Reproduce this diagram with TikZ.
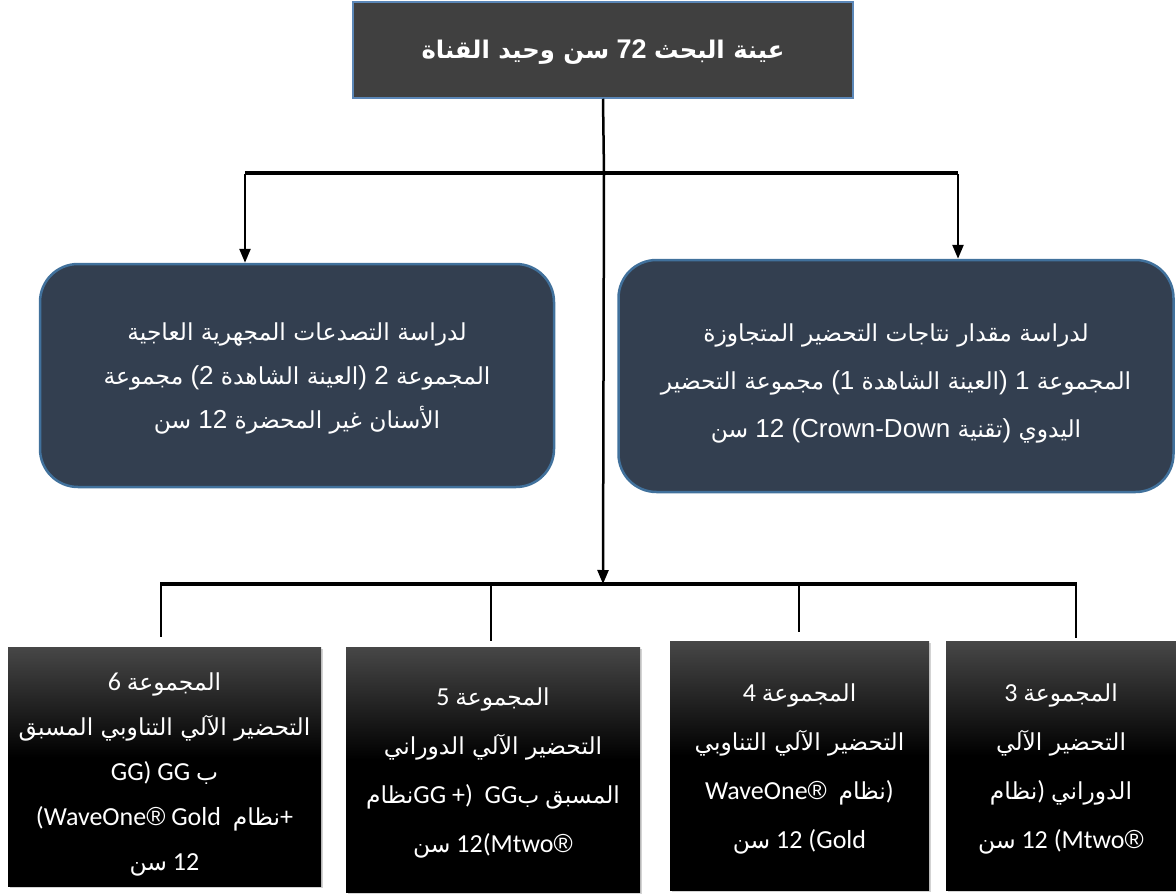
\documentclass[tikz,border=0pt]{standalone}
\usepackage{fontspec}
\setmainfont{Liberation Sans}
\newfontfamily\arf[Script=Arabic,Scale=0.9]{DejaVu Sans}
\newfontfamily\latf{Carlito}
\newfontfamily\regf{Liberation Sans}
\newcommand\A[1]{{\arf #1}}
\newcommand\reg{{\regf ®}}
\usetikzlibrary{arrows.meta,shadows}
\definecolor{topfill}{HTML}{404040}
\definecolor{topdraw}{HTML}{5B87B8}
\definecolor{midfill}{HTML}{333F50}
\definecolor{middraw}{HTML}{41719C}
\definecolor{gtop}{HTML}{474747}
\pgfdeclareverticalshading{grpshade}{100bp}{color(0bp)=(black); color(52bp)=(black); color(75bp)=(gtop); color(100bp)=(gtop)}
\begin{document}
\begin{tikzpicture}[x=1pt,y=-1pt,
  topbox/.style={draw=topdraw,line width=1.5pt,fill=topfill,minimum width=500pt,minimum height=96pt,inner sep=0pt},
  toptext/.style={text=white,inner sep=0pt,font=\bfseries\fontsize{27}{32}\selectfont},
  midbox/.style={draw=middraw,line width=2.5pt,fill=midfill,rounded corners=38pt,inner sep=0pt},
  midtext/.style={text=white,align=center,inner sep=0pt,font=\fontsize{26}{44}\selectfont},
  grpbox/.style={shading=grpshade,inner sep=0pt,drop shadow={opacity=0.35,shadow xshift=2pt,shadow yshift=-2pt}},
  grptext/.style={text=white,align=center,inner sep=0pt,font=\latf\fontsize{26}{49}\selectfont},
  link/.style={line width=2.5pt},
  bus/.style={line width=3.5pt},
  arrowed/.style={-{Triangle[width=11pt,length=14pt]}}
]
\useasboundingbox (0,0) rectangle (1176,894);

% top
\node[topbox] (top) at (603,50) {};
\node[toptext] (ttop) at (603,52) {\A{القناة وحيد سن} 72 \A{البحث عينة}};

% middle boxes
\node[midbox,minimum width=514pt,minimum height=223pt] (g2) at (297,375.5) {};
\node[midtext] (t2) at (297,378)
  {\A{العاجية المجهرية التصدعات لدراسة}\\
   \A{مجموعة} (2 \A{الشاهدة العينة}) 2 \A{المجموعة}\\
   \A{سن} 12 \A{المحضرة غير الأسنان}};
\node[midbox,minimum width=555pt,minimum height=232pt] (g1) at (896,376) {};
\node[midtext,font=\fontsize{26}{48}\selectfont] (t1) at (896,383)
  {\A{المتجاوزة التحضير نتاجات مقدار لدراسة}\\
   \A{التحضير مجموعة} (1 \A{الشاهدة العينة}) 1 \A{المجموعة}\\
   \A{سن} 12 (Crown-Down \A{تقنية}) \A{اليدوي}};

% bottom boxes
\node[grpbox,minimum width=313pt,minimum height=239pt] (g6) at (164.5,766.5) {};
\node[grptext,font=\latf\fontsize{26}{45}\selectfont] (t6) at (164.5,774)
  {6 \A{المجموعة}\\
   \A{المسبق التناوبي الآلي التحضير}\\
   GG) GG \A{ب}\\
   (WaveOne\reg{} Gold\ \ \A{نظام}+\\
   \A{سن} 12};
\node[grpbox,minimum width=294pt,minimum height=245pt] (g5) at (493,769.5) {};
\node[grptext] (t5) at (493,773.3)
  {5 \A{المجموعة}\\
   \A{الدوراني الآلي التحضير}\\
   \A{نظام}GG +)\ \ GG\A{ب} \A{المسبق}\\
   \A{سن} 12(Mtwo\reg};
\node[grpbox,minimum width=259pt,minimum height=249pt] (g4) at (799.5,765.5) {};
\node[grptext] (t4) at (799.5,769.3)
  {4 \A{المجموعة}\\
   \A{التناوبي الآلي التحضير}\\
   WaveOne\reg\ \ \A{نظام})\\
   \A{سن} 12 (Gold};
\node[grpbox,minimum width=230pt,minimum height=249pt] (g3) at (1061,765.5) {};
\node[grptext] (t3) at (1061,768.5)
  {3 \A{المجموعة}\\
   \A{الآلي التحضير}\\
   \A{نظام}) \A{الدوراني}\\
   \A{سن} 12 (Mtwo\reg};

% connectors
\coordinate (j1) at (604,173);
\coordinate (bl) at (245,173);
\coordinate (br) at (958,173);
\coordinate (bus2) at (603,584);
\coordinate (d6) at (161,584);
\coordinate (d5) at (491,584);
\coordinate (d4) at (799,584);
\coordinate (d3) at (1076,584);

\draw[link] (top.south) -- (j1);
\draw[bus] (bl) -- (br);
\draw[link,arrowed] ([yshift=-1pt]bl) -- (bl |- g2.north);
\draw[link,arrowed] ([yshift=-1pt]br) -- (br |- g1.north);
\draw[link,arrowed] (j1) -- (bus2);
\draw[bus] ([xshift=-1pt]d6) -- ([xshift=1pt]d3);
\draw[link,shorten >=10pt] (d6) -- (d6 |- g6.north);
\draw[link,shorten >=6pt] (d5) -- (d5 |- g5.north);
\draw[link,shorten >=9pt] (d4) -- (d4 |- g4.north);
\draw[link,shorten >=3pt] (d3) -- (d3 |- g3.north);
\end{tikzpicture}
\end{document}
